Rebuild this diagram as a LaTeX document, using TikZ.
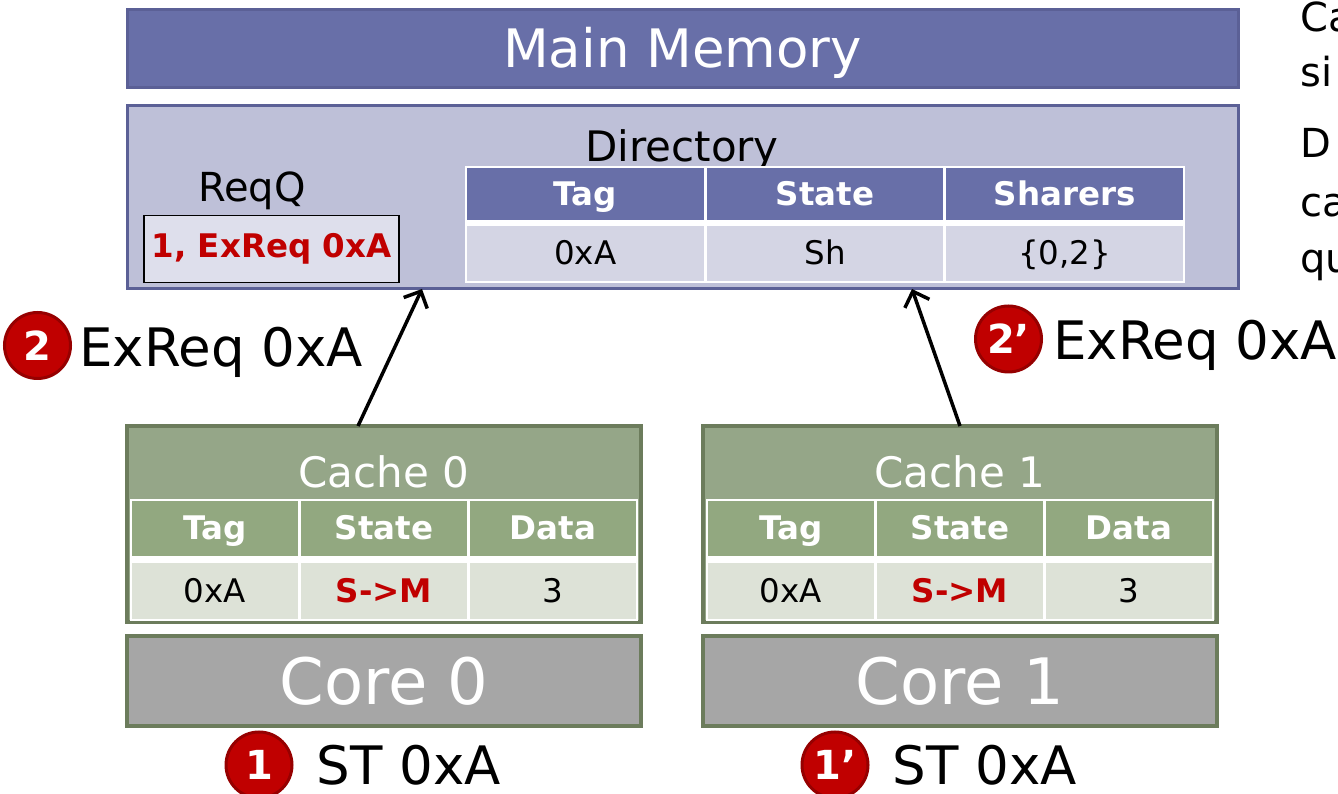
\documentclass[tikz,border=0pt]{standalone}
\usepackage{fontspec}
\setmainfont{DejaVu Sans}
\usetikzlibrary{arrows.meta,positioning}

\definecolor{memblue}{RGB}{104,111,168}
\definecolor{memline}{RGB}{91,96,150}
\definecolor{dirfill}{RGB}{190,192,216}
\definecolor{dirdata}{RGB}{212,213,228}
\definecolor{reqfill}{RGB}{222,223,236}
\definecolor{cfill}{RGB}{149,166,136}
\definecolor{chead}{RGB}{146,168,128}
\definecolor{cdatafill}{RGB}{221,226,215}
\definecolor{cline}{RGB}{108,124,92}
\definecolor{coregray}{RGB}{166,166,166}
\definecolor{alertred}{RGB}{192,0,0}
\definecolor{badgering}{RGB}{150,0,0}

\begin{document}
\begin{tikzpicture}[x=1pt,y=1pt,
  box/.style={draw,line width=3pt,inner sep=0pt,outer sep=0pt},
  membox/.style={box,draw=memline,fill=memblue,text=white,minimum width=1111pt,
    minimum height=78pt,text height=38pt,text depth=0pt,font=\fontsize{53}{60}\selectfont},
  dirbox/.style={box,draw=memline,fill=dirfill,minimum width=1111pt,minimum height=183pt},
  tabbg/.style={fill=white,inner sep=0pt,outer sep=0pt},
  dhead/.style={fill=memblue,text=white,font=\bfseries\fontsize{32.5}{36}\selectfont,
    minimum width=236.7pt,minimum height=52pt,inner sep=0pt,outer sep=0pt,
    text height=23pt,text depth=0pt},
  ddata/.style={dhead,fill=dirdata,text=black,font=\fontsize{32.5}{36}\selectfont,minimum height=55pt},
  chd/.style={dhead,fill=chead,minimum width=166pt,minimum height=55pt},
  cdata/.style={ddata,fill=cdatafill,minimum width=166pt,minimum height=56pt},
  cachebox/.style={box,line width=4pt,draw=cline,fill=cfill,minimum width=514pt,minimum height=196pt},
  corebox/.style={cachebox,fill=coregray,minimum height=90pt,text=white,font=\fontsize{64}{70}\selectfont},
  ctitle/.style={text=white,inner sep=0pt,font=\fontsize{42}{48}\selectfont},
  badge/.style={circle,fill=alertred,draw=badgering,line width=3pt,minimum size=66pt,inner sep=0pt,
    text=white,font=\bfseries\fontsize{40}{40}\selectfont},
  lbl/.style={inner sep=0pt,font=\fontsize{53}{60}\selectfont},
  sidetxt/.style={anchor=base west,inner sep=0pt,font=\fontsize{40}{48}\selectfont},
  req/.style={line width=3.5pt,-{Straight Barb[length=13pt,width=26pt]}}]
  \useasboundingbox (0,0) rectangle (1338,794);
  \clip (0,0) rectangle (1338,794);

  \node[membox] (mem) at (682.5,745) {Main Memory};
  \node[dirbox] (dir) at (682.5,596.5) {};
  \node[anchor=base,inner sep=0pt,font=\fontsize{42}{48}\selectfont] (dirlbl) at (682,632) {Directory};
  \node[anchor=base,inner sep=0pt,font=\fontsize{40}{48}\selectfont] (reqlbl) at (252,592) {ReqQ};
  \node[draw,line width=1.5pt,fill=reqfill,minimum width=255pt,minimum height=67pt,text=alertred,
    font=\bfseries\fontsize{32.5}{36}\selectfont] (reqq) at (271.5,545) {1, ExReq 0xA};

  \node[tabbg,minimum width=720pt,minimum height=117pt] (dtab) at (825,569.5) {};
  \node[dhead,anchor=north west] (dtag) at ([shift={(2,-2)}]dtab.north west) {Tag};
  \node[dhead,right=3pt of dtag] (dstate) {State};
  \node[dhead,right=3pt of dstate] (dshr) {Sharers};
  \node[ddata,below=6pt of dtag] (dtagv) {0xA};
  \node[ddata,below=6pt of dstate] (dstatev) {Sh};
  \node[ddata,below=6pt of dshr] (dshrv) {\{0,2\}};

  \foreach \i/\x/\n in {0/384/1,1/960/1’}{
    \node[cachebox] (cache\i) at (\x,270) {};
    \node[ctitle] (ctitle\i) at (\x,322) {Cache \i};
    \node[tabbg,minimum width=508pt,minimum height=122pt] (ctab\i) at (\x,234) {};
    \node[chd,anchor=north west] (ctag\i) at ([shift={(2,-2)}]ctab\i.north west) {Tag};
    \node[chd,right=3pt of ctag\i] (cstate\i) {State};
    \node[chd,right=3pt of cstate\i] (cval\i) {Data};
    \node[cdata,below=7pt of ctag\i] (ctagv\i) {0xA};
    \node[cdata,below=7pt of cstate\i,text=alertred,font=\bfseries\fontsize{32.5}{36}\selectfont] (cstatev\i) {S->M};
    \node[cdata,below=7pt of cval\i] (cvalv\i) {3};
    \node[corebox] (core\i) at (\x,113) {Core \i};
    \node[badge] (b\i) at ({\x-125},29) {\n};
    \node[lbl,base right=23pt of b\i,yshift=-5pt] (st\i) {ST 0xA};
  }

  \draw[req] ([xshift=-26]cache0.north) -- ([xshift=-260.5]dir.south);
  \draw[req] (cache1.north) -- ([xshift=229.5]dir.south);

  \node[badge] (b2) at (37.5,448.5) {2};
  \node[lbl,base right=7pt of b2,yshift=-6pt] (l2) {ExReq 0xA};
  \node[badge] (b2p) at (1008.5,455) {2’};
  \node[lbl,base right=10pt of b2p,yshift=-6pt] (l2p) {ExReq 0xA};

  \node[sidetxt] (s1) at (1300,762) {Ca};
  \node[sidetxt] (s2) at (1300,707) {si};
  \node[sidetxt] (s3) at (1300,636) {D};
  \node[sidetxt] (s4) at (1300,577) {ca};
  \node[sidetxt] (s5) at (1300,521) {qu};
\end{tikzpicture}
\end{document}
